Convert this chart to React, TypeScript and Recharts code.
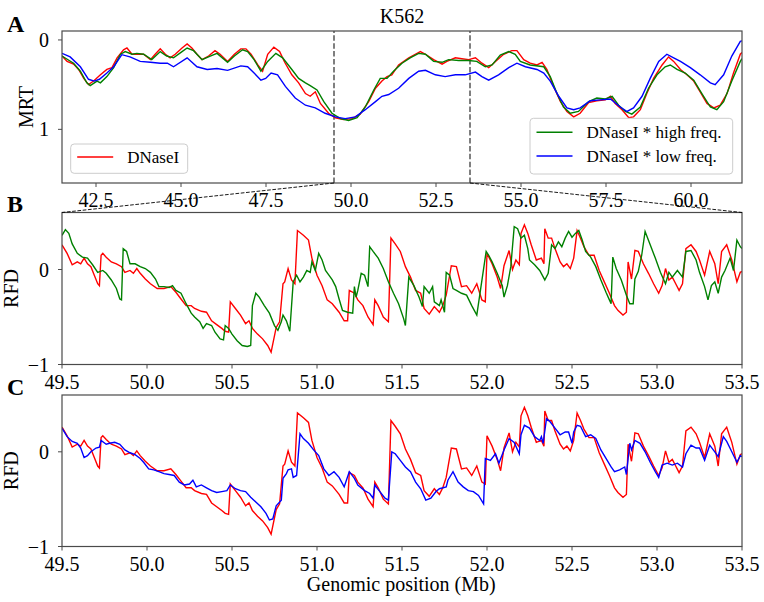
import React from 'react';
import { LineChart, Line, XAxis, YAxis, ReferenceLine } from 'recharts';

const FONT = '"Liberation Serif", "Times New Roman", serif';

// ---------- Panel A: MRT (Mb, MRT) ----------
const mrtDnase: number[][] = [
  [41.5, 0.18], [41.65, 0.24], [41.84, 0.27], [41.99, 0.33], [42.14, 0.43], [42.28, 0.5], [42.43, 0.46],
  [42.63, 0.39], [42.82, 0.33], [42.97, 0.31], [43.12, 0.2], [43.31, 0.11], [43.41, 0.09], [43.56, 0.16],
  [43.7, 0.16], [43.9, 0.16], [44.1, 0.22], [44.24, 0.16], [44.39, 0.1], [44.54, 0.16], [44.68, 0.2],
  [44.83, 0.16], [45.03, 0.09], [45.18, 0.045], [45.32, 0.09], [45.47, 0.16], [45.62, 0.22], [45.81, 0.18],
  [46.0, 0.12], [46.15, 0.16], [46.37, 0.24], [46.57, 0.16], [46.76, 0.1], [46.91, 0.1], [47.06, 0.16],
  [47.26, 0.28], [47.4, 0.35], [47.55, 0.16], [47.73, 0.08], [47.9, 0.13], [48.05, 0.25], [48.26, 0.39],
  [48.46, 0.48], [48.66, 0.6], [48.8, 0.63], [48.95, 0.58], [49.1, 0.71], [49.34, 0.82], [49.54, 0.87],
  [49.78, 0.89], [50.03, 0.88], [50.27, 0.83], [50.52, 0.69], [50.72, 0.54], [50.91, 0.46], [51.06, 0.41],
  [51.2, 0.39], [51.4, 0.28], [51.7, 0.2], [51.89, 0.16], [52.04, 0.13], [52.19, 0.16], [52.43, 0.22],
  [52.68, 0.27], [52.82, 0.24], [53.07, 0.2], [53.26, 0.21], [53.46, 0.22], [53.66, 0.2], [53.85, 0.26],
  [54.05, 0.31], [54.25, 0.24], [54.49, 0.16], [54.73, 0.12], [54.88, 0.12], [55.08, 0.22], [55.27, 0.26],
  [55.47, 0.28], [55.62, 0.25], [55.76, 0.33], [55.96, 0.52], [56.16, 0.69], [56.35, 0.8], [56.55, 0.86],
  [56.74, 0.82], [56.99, 0.7], [57.23, 0.68], [57.48, 0.67], [57.63, 0.63], [57.77, 0.71], [57.97, 0.78],
  [58.17, 0.87], [58.31, 0.86], [58.51, 0.78], [58.7, 0.6], [58.9, 0.43], [59.15, 0.28], [59.34, 0.19],
  [59.49, 0.24], [59.69, 0.33], [59.88, 0.39], [60.08, 0.46], [60.27, 0.58], [60.47, 0.71], [60.67, 0.76],
  [60.86, 0.73], [61.06, 0.6], [61.25, 0.37], [61.45, 0.16], [61.5, 0.14],
];

const mrtHigh: number[][] = [
  [41.5, 0.18], [41.84, 0.26], [42.04, 0.35], [42.23, 0.48], [42.33, 0.51], [42.53, 0.46], [42.63, 0.48],
  [42.82, 0.41], [43.02, 0.31], [43.22, 0.16], [43.36, 0.13], [43.56, 0.16], [43.7, 0.15], [43.9, 0.16],
  [44.14, 0.22], [44.39, 0.13], [44.58, 0.18], [44.78, 0.2], [45.03, 0.13], [45.18, 0.09], [45.37, 0.12],
  [45.62, 0.22], [45.86, 0.18], [46.06, 0.15], [46.37, 0.25], [46.57, 0.18], [46.81, 0.11], [46.96, 0.13],
  [47.15, 0.22], [47.35, 0.35], [47.55, 0.24], [47.79, 0.15], [47.99, 0.2], [48.26, 0.33], [48.46, 0.43],
  [48.66, 0.48], [48.8, 0.51], [49.0, 0.56], [49.2, 0.69], [49.44, 0.82], [49.69, 0.88], [49.93, 0.9],
  [50.18, 0.87], [50.42, 0.75], [50.67, 0.56], [50.86, 0.43], [51.06, 0.43], [51.25, 0.35], [51.5, 0.26],
  [51.74, 0.2], [51.99, 0.15], [52.19, 0.16], [52.43, 0.24], [52.68, 0.25], [52.87, 0.22], [53.17, 0.23],
  [53.46, 0.23], [53.7, 0.24], [53.95, 0.3], [54.15, 0.28], [54.39, 0.17], [54.64, 0.13], [54.83, 0.16],
  [54.98, 0.24], [55.27, 0.28], [55.67, 0.3], [55.86, 0.41], [56.06, 0.6], [56.25, 0.75], [56.45, 0.82],
  [56.69, 0.8], [56.99, 0.69], [57.23, 0.65], [57.48, 0.66], [57.68, 0.63], [57.87, 0.73], [58.07, 0.8],
  [58.26, 0.83], [58.51, 0.75], [58.75, 0.54], [59.0, 0.39], [59.24, 0.3], [59.39, 0.28], [59.59, 0.33],
  [59.83, 0.37], [60.08, 0.45], [60.32, 0.6], [60.57, 0.75], [60.76, 0.78], [60.96, 0.69], [61.2, 0.46],
  [61.45, 0.24], [61.5, 0.21],
];

const mrtLow: number[][] = [
  [41.5, 0.15], [41.74, 0.19], [42.04, 0.3], [42.28, 0.44], [42.45, 0.46], [42.6, 0.44], [42.82, 0.37],
  [43.02, 0.3], [43.26, 0.165], [43.5, 0.19], [43.8, 0.24], [44.1, 0.25], [44.39, 0.26], [44.6, 0.26],
  [44.78, 0.3], [45.18, 0.2], [45.47, 0.3], [45.77, 0.33], [46.06, 0.32], [46.37, 0.34], [46.76, 0.29],
  [46.96, 0.3], [47.15, 0.37], [47.35, 0.45], [47.49, 0.43], [47.65, 0.37], [47.84, 0.39], [48.07, 0.52],
  [48.36, 0.65], [48.66, 0.73], [48.95, 0.76], [49.24, 0.82], [49.54, 0.86], [49.83, 0.88], [50.13, 0.86],
  [50.42, 0.78], [50.72, 0.69], [50.91, 0.63], [51.11, 0.61], [51.4, 0.54], [51.7, 0.43], [51.99, 0.35],
  [52.19, 0.34], [52.48, 0.39], [52.77, 0.41], [53.07, 0.39], [53.36, 0.39], [53.66, 0.36], [53.85, 0.41],
  [54.05, 0.45], [54.34, 0.39], [54.64, 0.31], [54.88, 0.26], [55.13, 0.3], [55.47, 0.33], [55.67, 0.37],
  [55.86, 0.46], [56.11, 0.63], [56.35, 0.76], [56.55, 0.78], [56.74, 0.76], [57.04, 0.68], [57.33, 0.67],
  [57.63, 0.66], [57.92, 0.75], [58.12, 0.8], [58.31, 0.76], [58.56, 0.63], [58.8, 0.43], [59.05, 0.24],
  [59.29, 0.16], [59.49, 0.2], [59.69, 0.24], [59.98, 0.31], [60.27, 0.39], [60.57, 0.48], [60.71, 0.5],
  [60.96, 0.39], [61.2, 0.18], [61.45, 0.015], [61.5, 0.01],
];

// ---------- Panels B & C: RFD (Mb, RFD) ----------
const rfdDnase: number[][] = [
  [49.5, 0.26], [49.53, 0.17], [49.56, 0.05], [49.59, 0.08], [49.61, 0.06], [49.63, 0.12], [49.65, 0.06],
  [49.67, 0.03], [49.69, -0.06], [49.71, -0.15], [49.72, -0.17], [49.73, 0.15], [49.74, 0.17], [49.76, 0.13],
  [49.79, 0.08], [49.82, 0.06], [49.85, 0.03], [49.87, -0.03], [49.9, -0.01], [49.92, -0.04], [49.94, 0.01],
  [49.96, -0.04], [49.99, -0.1], [50.02, -0.15], [50.06, -0.2], [50.1, -0.2], [50.14, -0.18], [50.17, -0.24],
  [50.2, -0.31], [50.23, -0.38], [50.26, -0.38], [50.28, -0.41], [50.32, -0.44], [50.35, -0.45], [50.38, -0.54],
  [50.41, -0.58], [50.44, -0.62], [50.46, -0.65], [50.48, -0.66], [50.49, -0.34], [50.52, -0.41], [50.55, -0.48],
  [50.58, -0.57], [50.6, -0.54], [50.62, -0.62], [50.65, -0.68], [50.68, -0.73], [50.71, -0.8], [50.73, -0.87],
  [50.76, -0.61], [50.78, -0.55], [50.8, -0.15], [50.81, -0.13], [50.83, 0.01], [50.85, -0.11], [50.87, -0.15],
  [50.885, 0.41], [50.92, 0.36], [50.95, 0.31], [50.97, 0.12], [51.0, -0.06], [51.03, -0.17], [51.06, -0.32],
  [51.09, -0.36], [51.13, -0.45], [51.16, -0.54], [51.18, -0.54], [51.19, -0.22], [51.22, -0.25], [51.24, -0.32],
  [51.27, -0.38], [51.3, -0.5], [51.33, -0.58], [51.34, -0.32], [51.36, -0.38], [51.39, -0.5], [51.42, -0.55],
  [51.435, 0.33], [51.46, 0.27], [51.49, 0.19], [51.52, 0.03], [51.55, -0.08], [51.58, -0.22], [51.61, -0.25],
  [51.63, -0.41], [51.66, -0.47], [51.69, -0.39], [51.72, -0.45], [51.74, -0.38], [51.76, -0.27], [51.79, 0.04],
  [51.82, 0.03], [51.85, -0.18], [51.88, -0.17], [51.91, -0.25], [51.94, -0.15], [51.97, -0.32], [51.99, -0.34],
  [52.0, 0.17], [52.03, 0.06], [52.06, -0.08], [52.08, -0.2], [52.1, 0.04], [52.13, 0.2], [52.15, 0.0],
  [52.17, 0.1], [52.19, 0.05], [52.2, 0.38], [52.22, 0.47], [52.24, 0.38], [52.26, 0.26], [52.29, 0.1],
  [52.32, 0.12], [52.335, 0.06], [52.34, 0.43], [52.36, 0.33], [52.38, 0.33], [52.4, 0.22], [52.43, 0.08],
  [52.45, 0.03], [52.47, 0.06], [52.49, 0.01], [52.51, 0.12], [52.53, 0.41], [52.55, 0.33], [52.57, 0.24],
  [52.6, 0.15], [52.63, 0.15], [52.66, -0.01], [52.69, -0.13], [52.72, -0.25], [52.75, -0.38], [52.77, -0.43],
  [52.8, -0.48], [52.82, -0.45], [52.83, 0.08], [52.85, -0.1], [52.87, 0.2], [52.89, 0.19], [52.92, 0.06],
  [52.95, -0.04], [52.98, -0.15], [53.01, -0.25], [53.03, -0.17], [53.05, 0.01], [53.07, -0.11], [53.09, -0.08],
  [53.11, -0.15], [53.13, -0.22], [53.15, -0.15], [53.17, 0.22], [53.2, 0.26], [53.23, 0.19], [53.25, 0.1],
  [53.28, -0.06], [53.31, 0.19], [53.34, 0.06], [53.36, -0.15], [53.38, 0.19], [53.41, 0.26], [53.44, 0.1],
  [53.47, -0.13], [53.49, -0.03], [53.5, -0.02],
];

const rfdHigh: number[][] = [
  [49.5, 0.36], [49.52, 0.42], [49.54, 0.38], [49.56, 0.27], [49.59, 0.17], [49.62, 0.13], [49.65, 0.12],
  [49.68, 0.05], [49.71, -0.03], [49.74, -0.01], [49.76, -0.04], [49.79, -0.11], [49.82, -0.2], [49.84, -0.31],
  [49.85, -0.32], [49.86, 0.22], [49.88, 0.19], [49.9, 0.06], [49.93, 0.06], [49.96, 0.03], [49.99, 0.01],
  [50.02, -0.03], [50.05, -0.1], [50.07, -0.18], [50.1, -0.18], [50.13, -0.19], [50.15, -0.17], [50.17, -0.22],
  [50.2, -0.25], [50.23, -0.36], [50.26, -0.46], [50.28, -0.5], [50.31, -0.55], [50.33, -0.62], [50.35, -0.57],
  [50.38, -0.59], [50.4, -0.66], [50.43, -0.73], [50.45, -0.74], [50.46, -0.59], [50.48, -0.62], [50.5, -0.68],
  [50.53, -0.75], [50.56, -0.8], [50.59, -0.81], [50.61, -0.8], [50.62, -0.38], [50.64, -0.25], [50.66, -0.29],
  [50.69, -0.38], [50.72, -0.46], [50.75, -0.59], [50.77, -0.64], [50.79, -0.55], [50.8, -0.48], [50.82, -0.54],
  [50.84, -0.65], [50.86, -0.13], [50.88, -0.06], [50.9, -0.13], [50.92, -0.08], [50.94, -0.01], [50.96, -0.03],
  [50.97, 0.08], [50.99, -0.01], [51.01, 0.17], [51.03, 0.1], [51.05, -0.01], [51.07, -0.06], [51.09, -0.11],
  [51.11, -0.18], [51.13, -0.31], [51.15, -0.43], [51.18, -0.45], [51.21, -0.46], [51.22, -0.18], [51.23, -0.29],
  [51.24, -0.22], [51.26, -0.04], [51.28, -0.06], [51.3, -0.18], [51.31, 0.24], [51.33, 0.19], [51.36, 0.12],
  [51.39, 0.01], [51.42, -0.13], [51.45, -0.25], [51.48, -0.36], [51.51, -0.52], [51.52, -0.59], [51.54, -0.08],
  [51.57, -0.17], [51.6, -0.29], [51.62, -0.39], [51.63, -0.18], [51.66, -0.25], [51.68, -0.18], [51.69, -0.34],
  [51.72, -0.38], [51.73, -0.32], [51.75, -0.45], [51.76, -0.03], [51.78, -0.06], [51.8, -0.2], [51.82, -0.22],
  [51.85, -0.25], [51.88, -0.27], [51.91, -0.38], [51.94, -0.48], [51.995, 0.19], [52.01, 0.15], [52.03, 0.08],
  [52.06, -0.04], [52.09, -0.17], [52.1, -0.29], [52.12, -0.17], [52.14, 0.03], [52.16, 0.45], [52.18, 0.43],
  [52.2, 0.33], [52.22, 0.36], [52.24, 0.22], [52.25, 0.1], [52.28, 0.05], [52.31, -0.01], [52.34, -0.11],
  [52.36, -0.04], [52.38, 0.26], [52.4, 0.22], [52.42, 0.29], [52.44, 0.24], [52.46, 0.33], [52.48, 0.4],
  [52.5, 0.34], [52.52, 0.38], [52.54, 0.41], [52.56, 0.31], [52.58, 0.19], [52.61, 0.13], [52.64, 0.03],
  [52.67, -0.11], [52.7, -0.24], [52.72, -0.32], [52.73, -0.36], [52.74, 0.13], [52.76, 0.01], [52.79, -0.11],
  [52.82, -0.27], [52.84, -0.36], [52.86, -0.36], [52.87, -0.1], [52.89, -0.02], [52.91, 0.15], [52.93, 0.4],
  [52.96, 0.26], [52.99, 0.12], [53.02, -0.03], [53.05, -0.15], [53.07, -0.03], [53.09, -0.08], [53.12, -0.01],
  [53.15, -0.08], [53.17, 0.19], [53.2, 0.2], [53.23, 0.1], [53.25, -0.03], [53.28, -0.18], [53.3, -0.32],
  [53.32, -0.17], [53.34, -0.13], [53.36, -0.25], [53.38, -0.08], [53.4, -0.01], [53.43, 0.12], [53.45, -0.01],
  [53.47, 0.31], [53.49, 0.24], [53.5, 0.22],
];

const rfdLow: number[][] = [
  [49.5, 0.25], [49.53, 0.16], [49.56, 0.11], [49.59, 0.09], [49.61, 0.04], [49.63, -0.06], [49.65, -0.04],
  [49.67, 0.0], [49.7, 0.04], [49.72, 0.05], [49.73, 0.12], [49.76, 0.08], [49.78, 0.09], [49.81, 0.1],
  [49.84, 0.08], [49.87, 0.02], [49.9, -0.01], [49.93, -0.03], [49.96, -0.07], [49.98, -0.11], [50.01, -0.18],
  [50.04, -0.19], [50.07, -0.21], [50.1, -0.23], [50.13, -0.24], [50.16, -0.25], [50.19, -0.32], [50.22, -0.35],
  [50.25, -0.34], [50.27, -0.3], [50.29, -0.37], [50.32, -0.35], [50.35, -0.38], [50.38, -0.41], [50.41, -0.43],
  [50.44, -0.42], [50.47, -0.41], [50.49, -0.35], [50.52, -0.39], [50.55, -0.41], [50.58, -0.42], [50.61, -0.48],
  [50.64, -0.53], [50.67, -0.58], [50.7, -0.65], [50.72, -0.72], [50.74, -0.71], [50.76, -0.57], [50.79, -0.51],
  [50.8, -0.28], [50.82, -0.23], [50.83, -0.19], [50.85, -0.18], [50.86, -0.27], [50.88, -0.25], [50.9, 0.19],
  [50.92, 0.14], [50.95, 0.09], [50.98, 0.02], [51.01, -0.04], [51.04, -0.18], [51.07, -0.25], [51.1, -0.21],
  [51.13, -0.27], [51.16, -0.37], [51.19, -0.21], [51.22, -0.28], [51.24, -0.35], [51.28, -0.41], [51.31, -0.44],
  [51.33, -0.49], [51.34, -0.35], [51.37, -0.42], [51.4, -0.49], [51.42, -0.51], [51.44, 0.0], [51.46, -0.02],
  [51.49, -0.09], [51.52, -0.16], [51.55, -0.21], [51.58, -0.32], [51.61, -0.39], [51.64, -0.51], [51.67, -0.49],
  [51.7, -0.42], [51.72, -0.39], [51.76, -0.37], [51.77, -0.3], [51.8, -0.21], [51.83, -0.32], [51.86, -0.37],
  [51.89, -0.41], [51.92, -0.42], [51.95, -0.46], [51.98, -0.55], [51.99, -0.07], [52.02, -0.09], [52.05, -0.02],
  [52.07, -0.12], [52.1, 0.02], [52.13, 0.14], [52.16, 0.1], [52.19, -0.02], [52.2, 0.18], [52.22, 0.28],
  [52.25, 0.25], [52.28, 0.16], [52.31, 0.12], [52.32, 0.16], [52.33, 0.09], [52.35, 0.35], [52.37, 0.32],
  [52.4, 0.25], [52.43, 0.18], [52.46, 0.21], [52.48, 0.21], [52.5, 0.09], [52.51, 0.21], [52.53, 0.28],
  [52.55, 0.27], [52.58, 0.16], [52.61, 0.18], [52.64, 0.14], [52.67, 0.02], [52.7, -0.07], [52.73, -0.16],
  [52.75, -0.21], [52.78, -0.19], [52.81, -0.16], [52.82, -0.24], [52.84, 0.09], [52.85, 0.02], [52.87, 0.12],
  [52.9, 0.09], [52.93, 0.0], [52.96, -0.11], [52.99, -0.21], [53.01, -0.27], [53.03, -0.14], [53.06, -0.12],
  [53.09, -0.14], [53.12, -0.12], [53.15, -0.16], [53.17, -0.02], [53.2, 0.07], [53.23, 0.04], [53.25, 0.04],
  [53.28, -0.09], [53.31, 0.07], [53.34, 0.0], [53.36, -0.05], [53.39, 0.16], [53.41, 0.11], [53.44, 0.0],
  [53.47, -0.11], [53.49, -0.04], [53.5, -0.05],
];

// ---------- axes / labels ----------
const mrtXDomain = [41.5, 61.5];
const mrtXTicks = [42.5, 45, 47.5, 50, 52.5, 55, 57.5, 60];
const mrtYDomain = [-0.1, 1.6];
const mrtYTicks = [0, 1];
const rfdXDomain = [49.5, 53.5];
const rfdXTicks = [49.5, 50, 50.5, 51, 51.5, 52, 52.5, 53, 53.5];
const rfdYDomain = [-1, 0.6];
const rfdYTicks = [-1, 0];
const zoomRange = [49.5, 53.5];

const seriesNames = ['DNaseI', 'DNaseI * high freq.', 'DNaseI * low freq.'];
const seriesColors = ['#ff0000', '#008000', '#0000ff'];
const title = 'K562';
const xLabel = 'Genomic position (Mb)';

// ---------- layout ----------
const W = 764;
const H = 602;
const LEFT = 62;
const RIGHT = 742;
const XAXIS_H = 30;
const FRAME = '#4a4a4a';
const panelA = { top: 31, bottom: 183 };
const panelB = { top: 212.5, bottom: 364.5 };
const panelC = { top: 395, bottom: 546.5 };

const pts = (arr: number[][]) => arr.map(([x, y]) => ({ x, y }));
const fmtX = (v: number) => v.toFixed(1);
const fmtY = (v: number) => (v < 0 ? '\u2212' + Math.abs(v) : String(v));
const pxA = (v: number) => LEFT + ((v - mrtXDomain[0]) / (mrtXDomain[1] - mrtXDomain[0])) * (RIGHT - LEFT);

type Series = { data: number[][]; color: string; name: string };

function Panel(props: {
  box: { top: number; bottom: number };
  xDomain: number[];
  xTicks: number[];
  yDomain: number[];
  yTicks: number[];
  reversed?: boolean;
  series: Series[];
  refLines?: number[];
}) {
  const { box, xDomain, xTicks, yDomain, yTicks, reversed, series, refLines } = props;
  const tickStyle = { fill: '#000', fontSize: 20, fontFamily: FONT };
  return (
    <div style={{ position: 'absolute', left: 0, top: 0 }}>
      <LineChart
        width={W}
        height={H}
        margin={{ top: box.top, right: W - RIGHT, bottom: H - box.bottom - XAXIS_H, left: 0 }}
      >
        <XAxis
          type="number"
          dataKey="x"
          domain={xDomain}
          ticks={xTicks}
          allowDataOverflow
          tickFormatter={fmtX}
          height={XAXIS_H}
          axisLine={false}
          tickLine={{ stroke: FRAME, strokeWidth: 1 }}
          tickSize={4}
          tickMargin={6}
          tick={tickStyle}
          interval={0}
        />
        <YAxis
          type="number"
          dataKey="y"
          domain={yDomain}
          ticks={yTicks}
          allowDataOverflow
          reversed={reversed}
          tickFormatter={fmtY}
          width={LEFT}
          axisLine={false}
          tickLine={{ stroke: FRAME, strokeWidth: 1 }}
          tickSize={4}
          tickMargin={9}
          tick={tickStyle}
          interval={0}
        />
        {(refLines || []).map((v) => (
          <ReferenceLine key={v} x={v} stroke="#555" strokeWidth={1.5} strokeDasharray="5.5 2.4" />
        ))}
        {series.map((s) => (
          <Line
            key={s.name}
            data={pts(s.data)}
            dataKey="y"
            type="linear"
            stroke={s.color}
            strokeWidth={1.4}
            dot={false}
            activeDot={false}
            isAnimationActive={false}
          />
        ))}
      </LineChart>
    </div>
  );
}

function LegendBox(props: { x: number; y: number; w: number; h: number; items: { color: string; name: string; y: number }[] }) {
  const { x, y, w, h, items } = props;
  return (
    <g>
      <rect x={x} y={y} width={w} height={h} rx={3.5} ry={3.5} fill="#fff" fillOpacity={0.8} stroke="#cccccc" strokeWidth={1} />
      {items.map((it) => (
        <g key={it.name}>
          <line x1={x + 6.5} x2={x + 42.5} y1={it.y} y2={it.y} stroke={it.color} strokeWidth={1.5} />
          <text x={x + 56.5} y={it.y + 6} fontSize={17} fontFamily={FONT} fill="#000">
            {it.name}
          </text>
        </g>
      ))}
    </g>
  );
}

export default function App() {
  const bZoomL = pxA(zoomRange[0]);
  const bZoomR = pxA(zoomRange[1]);
  const frame = (b: { top: number; bottom: number }) => (
    <rect x={LEFT} y={b.top} width={RIGHT - LEFT} height={b.bottom - b.top} fill="none" stroke={FRAME} strokeWidth={1.2} />
  );
  return (
    <div style={{ position: 'absolute', left: 0, top: 0, width: W, height: H, background: '#fff', overflow: 'hidden', fontFamily: FONT }}>
      <Panel
        box={panelA}
        xDomain={mrtXDomain}
        xTicks={mrtXTicks}
        yDomain={mrtYDomain}
        yTicks={mrtYTicks}
        reversed
        refLines={zoomRange}
        series={[
          { data: mrtDnase, color: seriesColors[0], name: seriesNames[0] },
          { data: mrtHigh, color: seriesColors[1], name: seriesNames[1] },
          { data: mrtLow, color: seriesColors[2], name: seriesNames[2] },
        ]}
      />
      <Panel
        box={panelB}
        xDomain={rfdXDomain}
        xTicks={rfdXTicks}
        yDomain={rfdYDomain}
        yTicks={rfdYTicks}
        series={[
          { data: rfdDnase, color: seriesColors[0], name: seriesNames[0] },
          { data: rfdHigh, color: seriesColors[1], name: seriesNames[1] },
        ]}
      />
      <Panel
        box={panelC}
        xDomain={rfdXDomain}
        xTicks={rfdXTicks}
        yDomain={rfdYDomain}
        yTicks={rfdYTicks}
        series={[
          { data: rfdDnase, color: seriesColors[0], name: seriesNames[0] },
          { data: rfdLow, color: seriesColors[2], name: seriesNames[2] },
        ]}
      />
      <svg width={W} height={H} style={{ position: 'absolute', left: 0, top: 0, pointerEvents: 'none' }}>
        {frame(panelA)}
        {frame(panelB)}
        {frame(panelC)}
        <line x1={bZoomL} y1={panelA.bottom} x2={LEFT} y2={panelB.top} stroke="#000" strokeWidth={0.9} strokeDasharray="3.7 1.6" />
        <line x1={bZoomR} y1={panelA.bottom} x2={RIGHT} y2={panelB.top} stroke="#000" strokeWidth={0.9} strokeDasharray="3.7 1.6" />
        <LegendBox x={70.7} y={144} w={117} h={29.3} items={[{ color: seriesColors[0], name: seriesNames[0], y: 157 }]} />
        <LegendBox
          x={530}
          y={118.3}
          w={202.7}
          h={55.7}
          items={[
            { color: seriesColors[1], name: seriesNames[1], y: 132.3 },
            { color: seriesColors[2], name: seriesNames[2], y: 156 },
          ]}
        />
        <text x={402} y={22.7} textAnchor="middle" fontSize={20} fontFamily={FONT} fill="#000">{title}</text>
        <text x={401.3} y={591} textAnchor="middle" fontSize={20} fontFamily={FONT} fill="#000">{xLabel}</text>
        <text x={25.5} y={107} textAnchor="middle" dominantBaseline="central" fontSize={20} fontFamily={FONT} fill="#000" transform="rotate(-90 25.5 107)">MRT</text>
        <text x={11} y={288.5} textAnchor="middle" dominantBaseline="central" fontSize={20} fontFamily={FONT} fill="#000" transform="rotate(-90 11 288.5)">RFD</text>
        <text x={11} y={470.7} textAnchor="middle" dominantBaseline="central" fontSize={20} fontFamily={FONT} fill="#000" transform="rotate(-90 11 470.7)">RFD</text>
        <text x={7} y={32} fontSize={24} fontWeight="bold" fontFamily={FONT} fill="#000">A</text>
        <text x={7} y={211.7} fontSize={24} fontWeight="bold" fontFamily={FONT} fill="#000">B</text>
        <text x={7} y={395} fontSize={24} fontWeight="bold" fontFamily={FONT} fill="#000">C</text>
      </svg>
    </div>
  );
}
